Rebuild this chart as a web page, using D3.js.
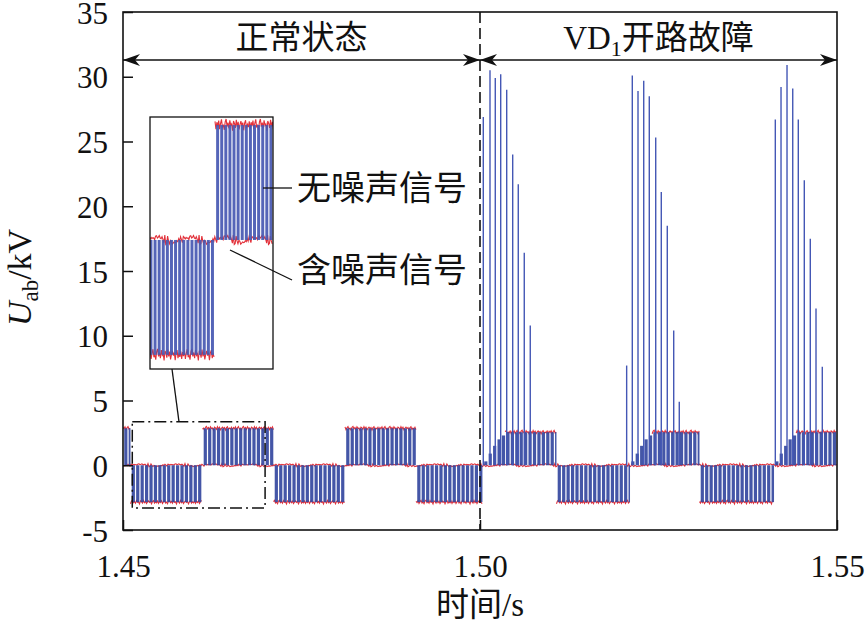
<!DOCTYPE html>
<html>
<head>
<meta charset="utf-8">
<script src="https://cdn.jsdelivr.net/npm/d3@7"></script>
<style>
body { margin: 0; background: #fff; }
svg { display: block; }
text { font-family: "Liberation Serif", "Times New Roman", "Noto Sans CJK SC", serif; fill: #111; }
</style>
</head>
<body>
<script>
/* global d3 */

// Data
const yTicks = [-5, 0, 5, 10, 15, 20, 25, 30, 35];
const xTicks = [1.45, 1.50, 1.55];
const faultTime = 1.50;

// switching blocks: start time (s), level (kV), after-fault flag
const blockStart = [1.4500, 1.45105, 1.46113, 1.47108, 1.48109, 1.49104, 1.50042, 1.51071, 1.52101, 1.53074, 1.54118];
const blockLevel = [2.85, -2.85, 2.85, -2.85, 2.85, -2.85, 2.55, -2.85, 2.55, -2.85, 2.55];
const blockFault = [0, 0, 0, 0, 0, 0, 1, 0, 1, 0, 1];
const tEnd = 1.55;
const notchSpacing = 0.00062;
const notchWidth = 0.00017;
// base level of the first pulses of each fault block (kV)
const rampKV = [0.3, 0.9, 1.5, 2.0, 2.3];

// voltage spikes after the VD1 open fault
const spikeT = [1.50046, 1.50140, 1.50214, 1.50290, 1.50374, 1.50458, 1.50536, 1.50620, 1.50704,
  1.52054, 1.52133, 1.52213, 1.52293, 1.52371, 1.52461, 1.52539, 1.52623, 1.52713, 1.52791,
  1.54136, 1.54216, 1.54300, 1.54380, 1.54458, 1.54542, 1.54626, 1.54706, 1.54794];
const spikeKV = [26.9, 30.5, 29.9, 30.2, 29.0, 24.0, 21.7, 16.4, 10.8,
  7.7, 30.1, 28.9, 29.7, 28.5, 25.3, 21.1, 18.5, 10.4, 4.9,
  26.7, 29.2, 30.9, 29.1, 26.7, 22.0, 17.5, 12.1, 7.6];

// measurement noise on the noisy signal (kV)
const noiseKV = [0.07, -0.03, 0.11, -0.10, 0.04, 0.14, -0.06, 0.01, -0.12, 0.08, 0.15, -0.04,
  0.06, -0.08, 0.12, -0.01, 0.03, -0.14, 0.10, 0.04, -0.07, 0.13, -0.04, 0.08, -0.11, 0.01,
  0.10, -0.02, 0.06, -0.13, 0.05, 0.12, -0.08, 0.02, -0.05, 0.09, -0.10];
const noiseStep = 0.00014;

// zoom box (main axes) shown in the inset
const zoomT = [1.4513, 1.4699];
const zoomV = [-3.3, 3.35];

// SVG setup
const width = 865;
const height = 626;
const plot = { left: 123, right: 837, top: 12, bottom: 530 };

const svg = d3.select('body')
.append('svg')
.attr('width', width)
.attr('height', height);

const xScale = d3.scaleLinear().domain([1.45, 1.55]).range([plot.left, plot.right]);
const yScale = d3.scaleLinear().domain([-5, 35]).range([plot.bottom, plot.top]);

const blue = '#34489f';
const red = '#e2313a';

svg.append('clipPath').attr('id', 'plotClip')
.append('rect')
.attr('x', plot.left).attr('y', plot.top)
.attr('width', plot.right - plot.left).attr('height', plot.bottom - plot.top);

// Blocks as objects
const blocks = blockStart.map((t0, i) => ({
    t0: t0,
    t1: i + 1 < blockStart.length ? blockStart[i + 1] : tEnd,
    level: blockLevel[i],
    fault: blockFault[i]
}));

function drawSignal(g, xs, ys, tMin, tMax, fill) {
    const line = d3.line().x(d => xs(d[0])).y(d => ys(d[1]));
    let n = 0;

    // noisy signal: level edges and zero line (drawn under the clean one)
    blocks.forEach(b => {
        if (b.t1 < tMin || b.t0 > tMax) return;
        const pts = [];
        for (let t = b.t0 + (b.fault ? rampKV.length * notchSpacing : 0); t <= b.t1; t += noiseStep) {
            pts.push([t, b.level + noiseKV[n++ % noiseKV.length]]);
        }
        g.append('path').attr('d', line(pts))
        .attr('fill', 'none').attr('stroke', red).attr('stroke-width', 1.1);
    });
    const zero = [];
    for (let t = Math.max(tMin, 1.45); t <= Math.min(tMax, tEnd); t += noiseStep) {
        zero.push([t, noiseKV[(n++ * 7) % noiseKV.length] * 0.8]);
    }
    g.append('path').attr('d', line(zero))
    .attr('fill', 'none').attr('stroke', red).attr('stroke-width', 1.1);

    // noise-free PWM pulses
    blocks.forEach(b => {
        if (b.t1 < tMin || b.t0 > tMax) return;
        const stripes = [];
        for (let k = 0; b.t0 + k * notchSpacing < b.t1; k++) {
            const a = b.t0 + k * notchSpacing + notchWidth;
            const e = Math.min(b.t0 + (k + 1) * notchSpacing, b.t1);
            if (e <= a) continue;
            const lv = b.fault && k < rampKV.length ? rampKV[k] : b.level;
            stripes.push({ a: a, e: e, lv: lv });
        }
        g.selectAll(null).data(stripes).enter()
        .append('rect')
        .attr('x', d => xs(d.a))
        .attr('width', d => xs(d.e) - xs(d.a))
        .attr('y', d => Math.min(ys(0), ys(d.lv)))
        .attr('height', d => Math.abs(ys(0) - ys(d.lv)))
        .attr('fill', fill)
        .attr('fill-opacity', 0.92);
    });

    // spikes
    g.selectAll(null).data(spikeT.filter(t => t >= tMin && t <= tMax)).enter()
    .append('line')
    .attr('x1', t => xs(t)).attr('x2', t => xs(t))
    .attr('y1', ys(0))
    .attr('y2', t => ys(spikeKV[spikeT.indexOf(t)]))
    .attr('stroke', '#4457b5')
    .attr('stroke-width', 1.4);
}

// Main signal
const main = svg.append('g').attr('clip-path', 'url(#plotClip)');
drawSignal(main, xScale, yScale, 1.45, 1.55, blue);

// Fault instant
svg.append('line')
.attr('x1', xScale(faultTime)).attr('x2', xScale(faultTime))
.attr('y1', plot.top).attr('y2', plot.bottom)
.attr('stroke', '#111').attr('stroke-width', 1.6)
.attr('stroke-dasharray', '11,5');

// Axes
const yAxis = svg.append('g')
.attr('transform', `translate(${ plot.left },0)`)
.call(d3.axisLeft(yScale).tickValues(yTicks).tickSize(-10).tickPadding(15).tickFormat(d => d));

const xAxis = svg.append('g')
.attr('transform', `translate(0,${ plot.bottom })`)
.call(d3.axisBottom(xScale).tickValues(xTicks).tickSize(-10).tickPadding(25).tickFormat(d3.format('.2f')));

[yAxis, xAxis].forEach(ax => {
    ax.select('.domain').remove();
    ax.selectAll('line').attr('stroke', '#111').attr('stroke-width', 1.5);
    ax.selectAll('text')
    .attr('font-family', '"Liberation Serif", "Times New Roman", serif')
    .attr('font-size', '31px')
    .attr('fill', '#111');
});
yAxis.selectAll('text').attr('dy', '0.36em');

// Frame
svg.append('rect')
.attr('x', plot.left).attr('y', plot.top)
.attr('width', plot.right - plot.left).attr('height', plot.bottom - plot.top)
.attr('fill', 'none').attr('stroke', '#111').attr('stroke-width', 1.6);

// Axis titles
svg.append('text')
.attr('x', xScale(faultTime)).attr('y', 616)
.attr('text-anchor', 'middle')
.attr('font-size', '33px')
.text('时间/s');

const yTitle = svg.append('text')
.attr('transform', `translate(31,${ yScale(14.5) }) rotate(-90)`)
.attr('text-anchor', 'middle')
.attr('font-size', '34px');
yTitle.append('tspan').attr('font-style', 'italic').text('U');
yTitle.append('tspan').attr('font-size', '23px').attr('dy', 7).text('ab');
yTitle.append('tspan').attr('dy', -7).text('/kV');

// State annotations
const arrowY = 60;
const arrowHead = (tip, dir) => `M${ tip },${ arrowY }L${ tip - dir * 17 },${ arrowY - 6 }L${ tip - dir * 12 },${ arrowY }L${ tip - dir * 17 },${ arrowY + 6 }Z`;
svg.append('line')
.attr('x1', plot.left).attr('x2', plot.right)
.attr('y1', arrowY).attr('y2', arrowY)
.attr('stroke', '#111').attr('stroke-width', 1.5);
[[plot.left, -1], [xScale(faultTime), 1], [xScale(faultTime), -1], [plot.right, 1]].forEach(([tip, dir]) => {
    svg.append('path').attr('d', arrowHead(tip, dir)).attr('fill', '#111');
});

svg.append('text')
.attr('x', (plot.left + xScale(faultTime)) / 2).attr('y', 49)
.attr('text-anchor', 'middle')
.attr('font-size', '33px')
.text('正常状态');

const faultLabel = svg.append('text')
.attr('x', (xScale(faultTime) + plot.right) / 2).attr('y', 49)
.attr('text-anchor', 'middle')
.attr('font-size', '33px');
faultLabel.append('tspan').text('VD');
faultLabel.append('tspan').attr('font-size', '22px').attr('dy', 7).text('1');
faultLabel.append('tspan').attr('dy', -7).text('开路故障');

// Zoom box (dash-dot)
svg.append('rect')
.attr('x', xScale(zoomT[0])).attr('y', yScale(zoomV[1]))
.attr('width', xScale(zoomT[1]) - xScale(zoomT[0]))
.attr('height', yScale(zoomV[0]) - yScale(zoomV[1]))
.attr('fill', 'none').attr('stroke', '#111').attr('stroke-width', 1.5)
.attr('stroke-dasharray', '12,4,2,4');

// Inset
const inset = { left: 150, right: 273, top: 117, bottom: 369 };
const insetX = d3.scaleLinear().domain(zoomT).range([inset.left, inset.right]);
const insetY = d3.scaleLinear().domain([-3.2, 3.05]).range([inset.bottom, inset.top]);

svg.append('clipPath').attr('id', 'insetClip')
.append('rect')
.attr('x', inset.left).attr('y', inset.top)
.attr('width', inset.right - inset.left).attr('height', inset.bottom - inset.top);

svg.append('rect')
.attr('x', inset.left).attr('y', inset.top)
.attr('width', inset.right - inset.left).attr('height', inset.bottom - inset.top)
.attr('fill', '#fff');

const insetG = svg.append('g').attr('clip-path', 'url(#insetClip)');
drawSignal(insetG, insetX, insetY, zoomT[0], zoomT[1], '#4658b2');

svg.append('rect')
.attr('x', inset.left).attr('y', inset.top)
.attr('width', inset.right - inset.left).attr('height', inset.bottom - inset.top)
.attr('fill', 'none').attr('stroke', '#111').attr('stroke-width', 1.3);

// Connector zoom box -> inset
svg.append('line')
.attr('x1', 179).attr('y1', yScale(zoomV[1]))
.attr('x2', 172).attr('y2', inset.bottom)
.attr('stroke', '#111').attr('stroke-width', 1.3);

// Leader lines and labels
svg.append('line').attr('x1', 263).attr('y1', 188).attr('x2', 292).attr('y2', 188)
.attr('stroke', '#111').attr('stroke-width', 1.3);
svg.append('line').attr('x1', 230).attr('y1', 250).attr('x2', 292).attr('y2', 280)
.attr('stroke', '#111').attr('stroke-width', 1.3);

svg.append('text').attr('x', 297).attr('y', 200).attr('font-size', '34px').text('无噪声信号');
svg.append('text').attr('x', 297).attr('y', 282).attr('font-size', '34px').text('含噪声信号');
</script>
</body>
</html>
